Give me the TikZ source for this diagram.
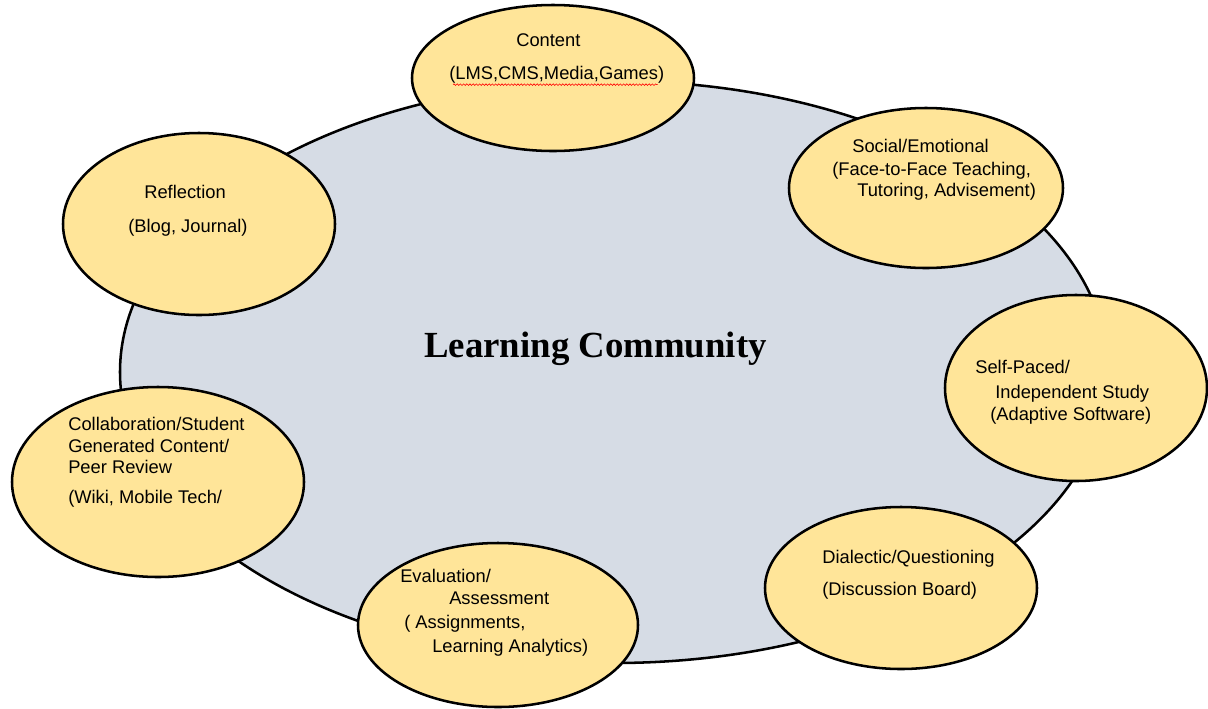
\documentclass[tikz,border=0pt]{standalone}
\usepackage{fontspec}
\setmainfont{Liberation Sans}
\newfontfamily\titlefont{Liberation Serif}
\usetikzlibrary{shapes.geometric,decorations.pathmorphing}
\definecolor{bubble}{RGB}{255,229,153}
\definecolor{community}{RGB}{214,220,229}
\begin{document}
\begin{tikzpicture}[x=0.75pt,y=-0.75pt,
  oval/.style 2 args={ellipse, draw=black, line width=1.9pt, fill=bubble, inner sep=0pt,
    minimum width=#1*1.5pt, minimum height=#2*1.5pt},
  lbl/.style={anchor=base west, inner sep=0pt, font=\fontsize{13.75pt}{16pt}\selectfont},
  spell/.style={draw=red, line width=0.45pt, decorate,
    decoration={snake, amplitude=0.6pt, segment length=2.4pt}}]
\useasboundingbox (0,0) rectangle (1208,708);
% big community ellipse
\node[oval={494}{291}, fill=community] (lc) at (614,372) {};
\node[anchor=base west, inner sep=0pt, font=\titlefont\bfseries\fontsize{27.6pt}{30pt}\selectfont] (lctext) at (424,357) {Learning Community};
% satellites
\node[oval={141}{73}] (content) at (553,78) {};
\node[oval={137}{80}] (social) at (926,188) {};
\node[oval={136}{91}] (reflection) at (199,224) {};
\node[oval={131}{93}] (selfpaced) at (1076,388) {};
\node[oval={146}{95}] (collab) at (158,482) {};
\node[oval={136}{81}] (dialectic) at (901,588) {};
\node[oval={140}{82}] (evaluation) at (498,625) {};
% texts
\node[lbl] (c1) at (516,46) {Content};
\node[lbl] (c2) at (449,79) {(LMS,CMS,Media,Games)};
\draw[spell] ([xshift=3pt,yshift=-1.2pt]c2.south west) -- ([xshift=-5pt,yshift=-1.2pt]c2.south east);
\node[lbl] (s1) at (852,152) {Social/Emotional};
\node[lbl] (s2) at (832,175) {(Face-to-Face Teaching,};
\node[lbl] (s3) at (857,196) {Tutoring, Advisement)};
\node[lbl] (r1) at (144,198) {Reflection};
\node[lbl] (r2) at (128,232) {(Blog, Journal)};
\node[lbl] (p1) at (975,373) {Self-Paced/};
\node[lbl] (p2) at (995,398) {Independent Study};
\node[lbl] (p3) at (990,420) {(Adaptive Software)};
\node[lbl] (k1) at (68,430) {Collaboration/Student};
\node[lbl] (k2) at (68,452) {Generated Content/};
\node[lbl] (k3) at (68,473) {Peer Review};
\node[lbl] (k4) at (68,503) {(Wiki, Mobile Tech/};
\node[lbl] (e1) at (400,582) {Evaluation/};
\node[lbl] (e2) at (449,604) {Assessment};
\node[lbl] (e3) at (404,628) {( Assignments,};
\node[lbl] (e4) at (432,652) {Learning Analytics)};
\node[lbl] (d1) at (822,563) {Dialectic/Questioning};
\node[lbl] (d2) at (822,595) {(Discussion Board)};
\end{tikzpicture}
\end{document}
